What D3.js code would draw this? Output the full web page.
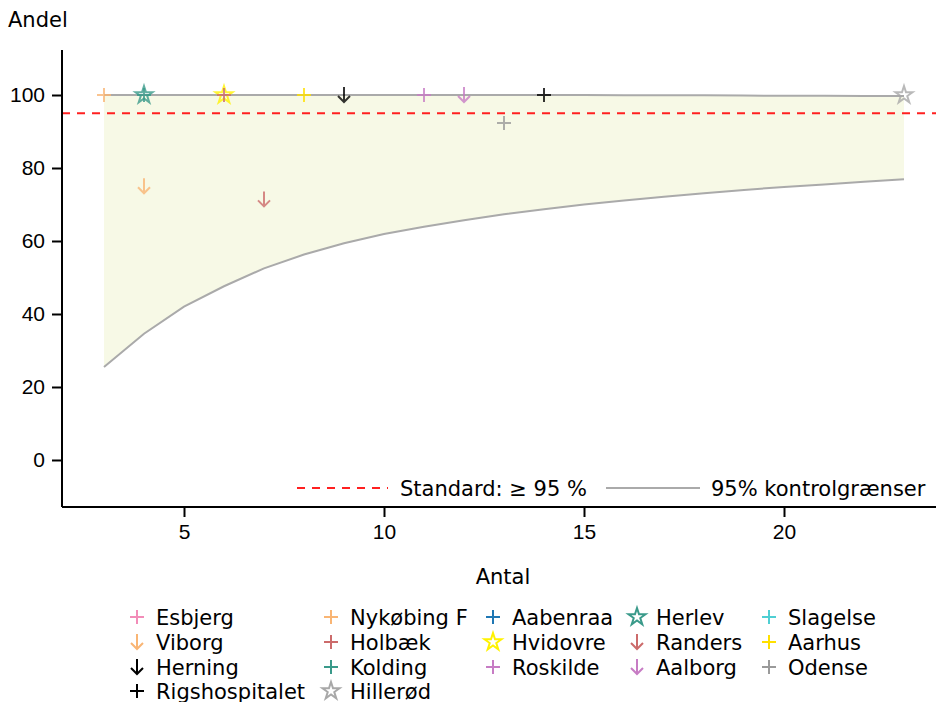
<!DOCTYPE html>
<html>
<head>
<meta charset="utf-8">
<script src="https://cdn.jsdelivr.net/npm/d3@7"></script>
<style>
  body { margin: 0; background: #fff; }
  svg { font-family: "DejaVu Sans", sans-serif; }
</style>
</head>
<body>
<div id="chart"></div>
<script>
// sygehuse, antal (n) og andel (%)
const hospitals = ["Esbjerg", "Nykøbing F", "Aabenraa", "Herlev", "Slagelse",
                   "Viborg", "Holbæk", "Hvidovre", "Randers", "Aarhus",
                   "Herning", "Kolding", "Roskilde", "Aalborg", "Odense",
                   "Rigshospitalet", "Hillerød"];
const counts = [null, 3, null, 4, null, 4, 6, 6, 7, 8, 9, 4, 11, 12, 13, 14, 23];
const shares = [null, 100, null, 100, null, 75, 100, 100, 71.4, 100, 100, 100, 100, 100, 92.3, 100, 100];
const colors = ["#f28cb8", "#f9b574", "#1f77b4", "#3a9a8a", "#4fcfd3",
                "#f9b574", "#cc6b6b", "#fff200", "#cc6b6b", "#ffe000",
                "#000000", "#3a9a8a", "#c77cc4", "#c77cc4", "#9a9a9a",
                "#000000", "#a8a8a8"];
const shapes = ["plus", "plus", "plus", "star", "plus",
                "arrow", "plus", "star", "arrow", "plus",
                "arrow", "plus", "plus", "arrow", "plus",
                "plus", "star"];

// kontrolgrænser
const limitN = [3, 4, 5, 6, 7, 8, 9, 10, 11, 12, 13, 14, 15, 16, 17, 18, 19, 20, 21, 22, 23];
const lowerLimit = [25.5, 34.6, 42.0, 47.6, 52.5, 56.3, 59.4, 61.9, 63.9, 65.7, 67.3, 68.7, 70.0, 71.1, 72.1, 73.1, 74.0, 74.8, 75.5, 76.2, 76.9];
const upperLimit = [100, 100, 100, 100, 100, 100, 100, 100, 100, 100, 100, 100, 100, 99.95, 99.9, 99.9, 99.85, 99.8, 99.8, 99.75, 99.7];
const standard = 95;

const xTicks = [5, 10, 15, 20];
const yTicks = [0, 20, 40, 60, 80, 100];

const W = 936, H = 702;
const FS = 21;
const svg = d3.select("#chart").append("svg")
    .attr("width", W)
    .attr("height", H);

const x = d3.scaleLinear().domain([1.95, 23.8]).range([62, 936]);
const y = d3.scaleLinear().domain([-12.88, 112.33]).range([507, 50]);

// kontrolbånd
const band = limitN.map((n, i) => ({ n: n, lo: lowerLimit[i], hi: upperLimit[i] }));
svg.append("path")
    .datum(band)
    .attr("fill", "#f7f9e6")
    .attr("d", d3.area().x(d => x(d.n)).y0(d => y(d.lo)).y1(d => y(d.hi)));

const limitLine = key => d3.line().x(d => x(d.n)).y(d => y(d[key]));
["lo", "hi"].forEach(k => {
    svg.append("path")
        .datum(band)
        .attr("fill", "none")
        .attr("stroke", "#aaaaaa")
        .attr("stroke-width", 2)
        .attr("d", limitLine(k));
});

// standard
svg.append("line")
    .attr("x1", 62).attr("x2", W)
    .attr("y1", y(standard)).attr("y2", y(standard))
    .attr("stroke", "#ff2020")
    .attr("stroke-width", 2)
    .attr("stroke-dasharray", "8,7");

// symboler
function starPath(r) {
    const ri = r * 0.382;
    let pts = [];
    for (let i = 0; i < 10; i++) {
        const a = -Math.PI / 2 + i * Math.PI / 5;
        const rr = i % 2 === 0 ? r : ri;
        pts.push([rr * Math.cos(a), rr * Math.sin(a)]);
    }
    return "M" + pts.map(p => p[0].toFixed(2) + "," + p[1].toFixed(2)).join("L") + "Z";
}
const symbolPath = {
    plus: "M-7,0H7M0,-7V7",
    arrow: "M0,-8V7M-6,1L0,7L6,1",
    star: starPath(9)
};

function drawSymbol(g, shape, color, alpha) {
    g.append("path")
        .attr("d", symbolPath[shape])
        .attr("fill", "none")
        .attr("stroke", color)
        .attr("stroke-width", 2)
        .attr("stroke-opacity", alpha);
}

const points = hospitals.map((h, i) => ({ h: h, n: counts[i], p: shares[i], c: colors[i], s: shapes[i] }))
    .filter(d => d.n !== null);
// stjerner først, så plus ligger ovenpå
points.sort((a, b) => (a.s === "star" ? 0 : 1) - (b.s === "star" ? 0 : 1));
points.forEach(d => {
    const g = svg.append("g").attr("transform", `translate(${x(d.n)},${y(d.p)})`);
    drawSymbol(g, d.s, d.c, 0.8);
});

// akser
const yAxis = svg.append("g")
    .attr("transform", "translate(62,0)")
    .call(d3.axisLeft(y).tickValues(yTicks).tickSize(10).tickPadding(7));
const xAxis = svg.append("g")
    .attr("transform", "translate(0,507)")
    .call(d3.axisBottom(x).tickValues(xTicks).tickSize(10).tickPadding(7));
[yAxis, xAxis].forEach(a => {
    a.select(".domain").attr("stroke-width", 2).attr("stroke", "#000");
    a.selectAll(".tick line").attr("stroke-width", 2);
    a.selectAll(".tick text").attr("font-size", FS).attr("fill", "#000");
});
yAxis.select(".domain").attr("d", "M0,50V507");
xAxis.select(".domain").attr("d", "M62,0H936");

svg.append("text")
    .attr("x", 8).attr("y", 27)
    .attr("font-size", FS)
    .text("Andel");
svg.append("text")
    .attr("x", 503).attr("y", 584)
    .attr("text-anchor", "middle")
    .attr("font-size", FS)
    .text("Antal");

// legende i plottet
const lg = svg.append("g").attr("font-size", FS);
lg.append("line")
    .attr("x1", 297).attr("x2", 388).attr("y1", 488).attr("y2", 488)
    .attr("stroke", "#ff2020").attr("stroke-width", 2).attr("stroke-dasharray", "8,7");
lg.append("text").attr("x", 400).attr("y", 496).text("Standard: ≥ 95 %");
lg.append("line")
    .attr("x1", 606).attr("x2", 700).attr("y1", 488).attr("y2", 488)
    .attr("stroke", "#aaaaaa").attr("stroke-width", 2);
lg.append("text").attr("x", 711).attr("y", 496).text("95% kontrolgrænser");

// legende under plottet
const colX = [137, 331, 493, 637, 769];
const rowY = [617, 642, 667, 691];
hospitals.forEach((h, i) => {
    const cx = colX[i % 5], cy = rowY[Math.floor(i / 5)];
    const g = svg.append("g").attr("transform", `translate(${cx},${cy})`);
    drawSymbol(g, shapes[i], colors[i], 1);
    g.append("text")
        .attr("x", 19).attr("y", 7.5)
        .attr("font-size", FS)
        .text(h);
});
</script>
</body>
</html>
